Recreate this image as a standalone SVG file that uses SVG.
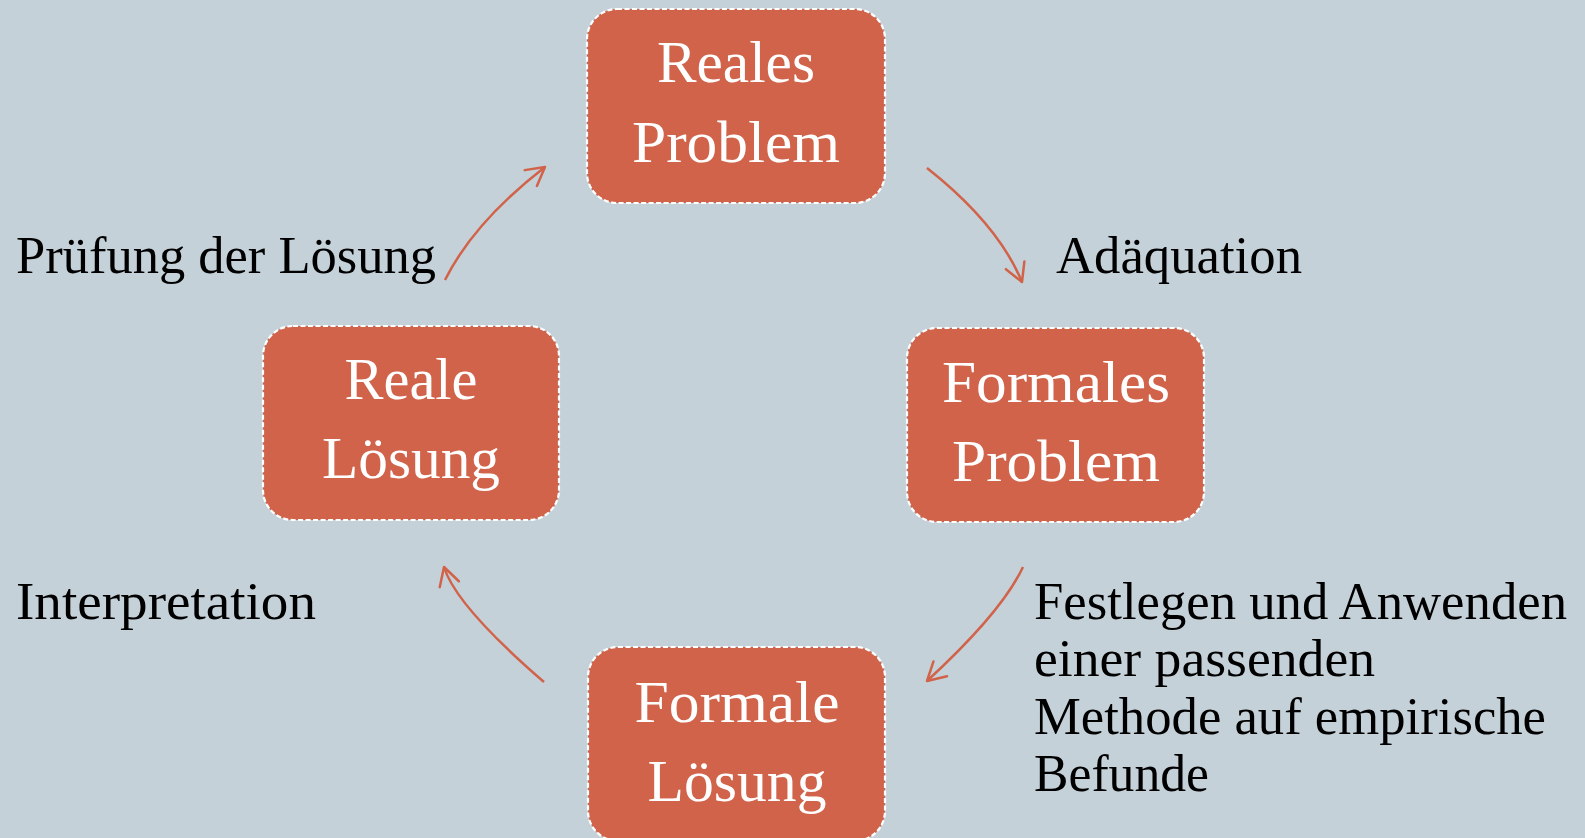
<svg xmlns="http://www.w3.org/2000/svg" width="1585" height="838" viewBox="0 0 1585 838">
  <style>
    .box { fill: #D0634A; stroke: #FFFFFF; stroke-width: 2.2; stroke-dasharray: 5 2.5; }
    .nt { font-family: "Liberation Serif", "Times New Roman", serif; font-size: 60px; fill: #FFFFFF; text-anchor: middle; }
    .lbl { font-family: "Liberation Serif", "Times New Roman", serif; font-size: 52px; fill: #000000; }
    .arr { fill: none; stroke: #D0634A; stroke-width: 2.5; marker-end: url(#ah); }
  </style>
  <defs>
    <marker id="ah" markerUnits="userSpaceOnUse" markerWidth="26" markerHeight="26" refX="21" refY="13" orient="auto" overflow="visible">
      <path d="M3,3 L21,13 L3,23" fill="none" stroke="#D0634A" stroke-width="2.5" stroke-linecap="round" stroke-linejoin="round"/>
    </marker>
  </defs>
  <rect x="0" y="0" width="1585" height="838" fill="#C5D1D8"/>

  <g id="connectors">
    <path class="arr" d="M927,168 Q998,224 1022,282"/>
    <path class="arr" d="M1023,567 Q1002,612 927,681"/>
    <path class="arr" d="M544,682 Q456,606 444,567"/>
    <path class="arr" d="M445,280 Q474,222 545,167"/>
  </g>

  <g id="reales-problem">
    <rect class="box" x="587" y="9" width="298" height="194" rx="30" ry="30"/>
    <text class="nt" x="736" y="82" textLength="158" lengthAdjust="spacingAndGlyphs">Reales</text>
    <text class="nt" x="736" y="162" textLength="208" lengthAdjust="spacingAndGlyphs">Problem</text>
  </g>

  <g id="formales-problem">
    <rect class="box" x="907" y="328" width="297" height="194" rx="30" ry="30"/>
    <text class="nt" x="1056" y="402" textLength="228" lengthAdjust="spacingAndGlyphs">Formales</text>
    <text class="nt" x="1056" y="481" textLength="208" lengthAdjust="spacingAndGlyphs">Problem</text>
  </g>

  <g id="formale-loesung">
    <rect class="box" x="588" y="647" width="297" height="194" rx="30" ry="30"/>
    <text class="nt" x="737" y="722" textLength="205" lengthAdjust="spacingAndGlyphs">Formale</text>
    <text class="nt" x="737" y="801" textLength="179" lengthAdjust="spacingAndGlyphs">Lösung</text>
  </g>

  <g id="reale-loesung">
    <rect class="box" x="263" y="326" width="296" height="194" rx="30" ry="30"/>
    <text class="nt" x="411" y="399" textLength="133" lengthAdjust="spacingAndGlyphs">Reale</text>
    <text class="nt" x="411" y="478" textLength="178" lengthAdjust="spacingAndGlyphs">Lösung</text>
  </g>

  <g id="labels">
    <text class="lbl" x="1056" y="273" textLength="246" lengthAdjust="spacingAndGlyphs">Adäquation</text>
    <text class="lbl" x="16" y="273" textLength="420" lengthAdjust="spacingAndGlyphs">Prüfung der Lösung</text>
    <text class="lbl" x="16" y="619" textLength="300" lengthAdjust="spacingAndGlyphs">Interpretation</text>
    <text class="lbl" x="1034" y="619" textLength="533" lengthAdjust="spacingAndGlyphs">Festlegen und Anwenden</text>
    <text class="lbl" x="1034" y="676" textLength="341" lengthAdjust="spacingAndGlyphs">einer passenden</text>
    <text class="lbl" x="1034" y="734" textLength="512" lengthAdjust="spacingAndGlyphs">Methode auf empirische</text>
    <text class="lbl" x="1034" y="791" textLength="175" lengthAdjust="spacingAndGlyphs">Befunde</text>
  </g>
</svg>
